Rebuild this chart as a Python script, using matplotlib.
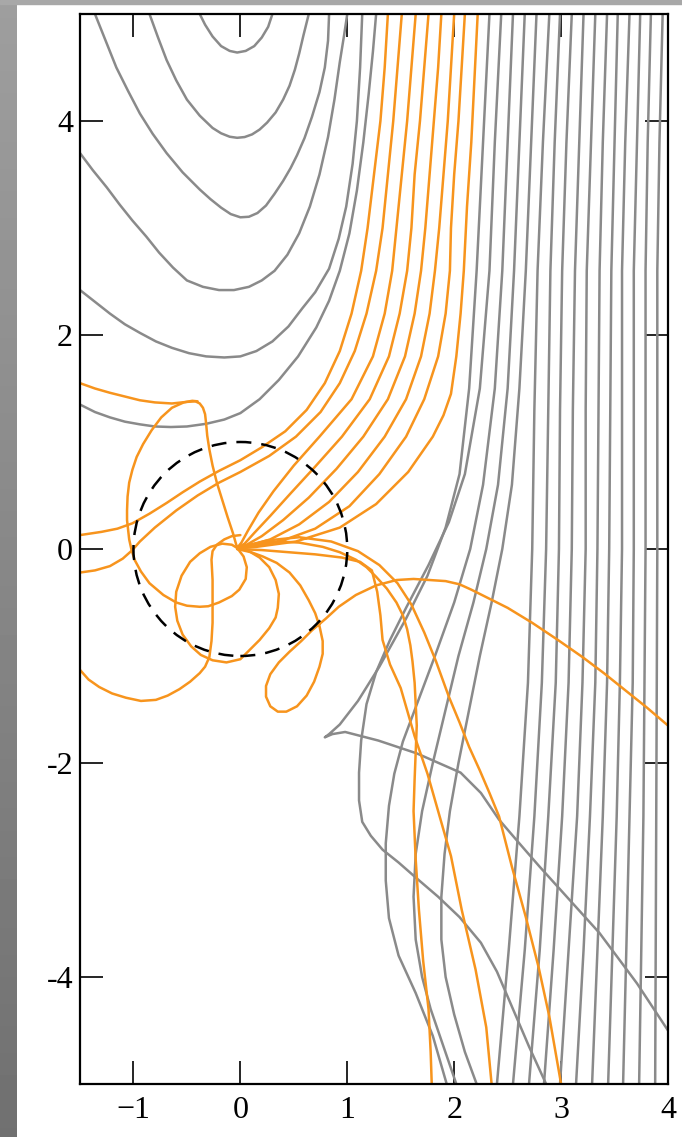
import numpy as np
import matplotlib
matplotlib.use('Agg')
import matplotlib.pyplot as plt
from matplotlib.patches import Rectangle, Circle

# ---------------- data (data units) ----------------
# grey trajectories turned back in the upper left
refl_x = [
    [-0.38, -0.33, -0.26, -0.18, -0.10, -0.03, 0.05, 0.13, 0.20, 0.26, 0.30],
    [-0.85, -0.77, -0.69, -0.60, -0.50, -0.38, -0.26, -0.18, -0.10, -0.03, 0.04, 0.11, 0.18, 0.25, 0.33, 0.40, 0.46, 0.51, 0.55, 0.59, 0.64],
    [-1.36, -1.26, -1.16, -1.05, -0.94, -0.82, -0.69, -0.54, -0.38, -0.28, -0.18, -0.09, 0.00, 0.08, 0.16, 0.24, 0.32, 0.40, 0.47, 0.53, 0.60, 0.67, 0.74, 0.79, 0.82, 0.83],
    [-1.50, -1.38, -1.25, -1.13, -1.01, -0.88, -0.76, -0.63, -0.50, -0.35, -0.20, -0.06, 0.08, 0.20, 0.32, 0.44, 0.55, 0.65, 0.74, 0.82, 0.88, 0.93, 0.97, 1.00],
    [-1.50, -1.36, -1.22, -1.08, -0.94, -0.79, -0.64, -0.48, -0.32, -0.15, 0.00, 0.15, 0.30, 0.45, 0.58, 0.70, 0.83, 0.92, 0.99, 1.05, 1.09, 1.12, 1.14],
    [-1.50, -1.36, -1.22, -1.08, -0.94, -0.80, -0.65, -0.50, -0.32, -0.15, 0.00, 0.18, 0.36, 0.54, 0.71, 0.83, 0.93, 1.02, 1.09, 1.15, 1.20, 1.24, 1.27],
]
refl_y = [
    [5.00, 4.90, 4.79, 4.70, 4.655, 4.64, 4.655, 4.70, 4.78, 4.88, 5.00],
    [5.00, 4.78, 4.57, 4.38, 4.20, 4.05, 3.935, 3.885, 3.853, 3.843, 3.85, 3.875, 3.92, 3.985, 4.08, 4.20, 4.33, 4.48, 4.63, 4.80, 5.00],
    [5.00, 4.75, 4.50, 4.28, 4.07, 3.88, 3.70, 3.52, 3.36, 3.27, 3.19, 3.13, 3.10, 3.105, 3.14, 3.21, 3.32, 3.44, 3.56, 3.68, 3.84, 4.04, 4.27, 4.50, 4.75, 5.00],
    [3.70, 3.54, 3.38, 3.22, 3.07, 2.92, 2.77, 2.63, 2.51, 2.45, 2.42, 2.42, 2.45, 2.51, 2.60, 2.75, 2.95, 3.20, 3.50, 3.85, 4.20, 4.55, 4.80, 5.00],
    [2.42, 2.31, 2.20, 2.10, 2.02, 1.94, 1.88, 1.83, 1.80, 1.79, 1.80, 1.85, 1.94, 2.08, 2.25, 2.40, 2.62, 2.90, 3.20, 3.60, 4.00, 4.50, 5.00],
    [1.35, 1.28, 1.23, 1.19, 1.165, 1.145, 1.14, 1.145, 1.17, 1.21, 1.27, 1.40, 1.58, 1.80, 2.07, 2.32, 2.60, 2.95, 3.35, 3.80, 4.25, 4.65, 5.00],
]

# grey trajectories passing on the right: x at the levels below
pass_levels = [5.0, 3.8, 2.6, 1.3, 0.0, -1.25, -2.5, -3.75, -5.0]
pass_x = [
    [2.89, 2.83, 2.78, 2.75, 2.73, 2.69, 2.61, 2.51, 2.40],
    [2.99, 2.94, 2.90, 2.88, 2.86, 2.82, 2.75, 2.66, 2.55],
    [3.10, 3.05, 3.01, 2.99, 2.98, 2.95, 2.88, 2.80, 2.70],
    [3.21, 3.17, 3.13, 3.11, 3.10, 3.07, 3.01, 2.93, 2.84],
    [3.32, 3.28, 3.24, 3.23, 3.23, 3.20, 3.15, 3.07, 2.99],
    [3.43, 3.39, 3.36, 3.35, 3.34, 3.32, 3.27, 3.21, 3.14],
    [3.53, 3.50, 3.47, 3.46, 3.45, 3.43, 3.39, 3.34, 3.29],
    [3.64, 3.60, 3.57, 3.57, 3.57, 3.55, 3.52, 3.48, 3.44],
    [3.74, 3.71, 3.68, 3.68, 3.68, 3.67, 3.64, 3.61, 3.58],
    [3.84, 3.81, 3.79, 3.79, 3.79, 3.78, 3.77, 3.75, 3.73],
    [3.95, 3.92, 3.90, 3.90, 3.90, 3.895, 3.89, 3.885, 3.88],
]

# grey trajectories strongly bent (inner ones)
bent_x = [
    [2.33, 2.27, 2.21, 2.14, 2.05, 1.92, 1.75, 1.55, 1.30, 1.10, 0.93, 0.83, 0.79, 0.86, 0.98, 1.29, 1.65, 2.06, 2.25, 2.42, 2.60, 2.80, 3.08, 3.36, 3.71, 4.00],
    [2.44, 2.38, 2.33, 2.24, 2.10, 1.95, 1.76, 1.55, 1.40, 1.27, 1.18, 1.13, 1.11, 1.11, 1.14, 1.22, 1.33, 1.48, 1.64, 1.85, 2.05, 2.25, 2.40, 2.55, 2.70, 2.86],
    [2.55, 2.50, 2.45, 2.38, 2.27, 2.15, 2.00, 1.82, 1.64, 1.52, 1.44, 1.39, 1.36, 1.36, 1.39, 1.48, 1.64, 1.80, 1.93],
    [2.66, 2.61, 2.56, 2.50, 2.41, 2.30, 2.18, 2.04, 1.92, 1.80, 1.70, 1.64, 1.62, 1.64, 1.70, 1.78, 1.90, 2.02],
    [2.77, 2.72, 2.67, 2.61, 2.54, 2.45, 2.35, 2.24, 2.14, 2.04, 1.96, 1.91, 1.88, 1.88, 1.92, 2.00, 2.10, 2.21],
]
bent_y = [
    [5.00, 3.80, 2.60, 1.50, 0.70, 0.20, -0.25, -0.65, -1.10, -1.42, -1.64, -1.73, -1.76, -1.73, -1.71, -1.79, -1.91, -2.09, -2.28, -2.53, -2.74, -2.97, -3.28, -3.59, -4.06, -4.50],
    [5.00, 3.80, 2.60, 1.50, 0.70, 0.25, -0.15, -0.55, -0.85, -1.15, -1.45, -1.79, -2.09, -2.35, -2.55, -2.68, -2.81, -2.93, -3.07, -3.25, -3.44, -3.68, -3.95, -4.30, -4.65, -5.00],
    [5.00, 3.80, 2.60, 1.50, 0.60, 0.00, -0.50, -1.00, -1.48, -1.80, -2.10, -2.40, -2.75, -3.10, -3.45, -3.80, -4.15, -4.55, -5.00],
    [5.00, 3.80, 2.60, 1.50, 0.60, 0.00, -0.50, -1.00, -1.50, -2.00, -2.45, -2.85, -3.25, -3.65, -4.00, -4.30, -4.65, -5.00],
    [5.00, 3.80, 2.60, 1.50, 0.60, 0.00, -0.50, -1.00, -1.50, -2.00, -2.45, -2.85, -3.25, -3.65, -4.00, -4.35, -4.70, -5.00],
]

# orange trajectories
orange_x = [
    # to the left edge, upper
    [1.38, 1.35, 1.31, 1.25, 1.19, 1.13, 1.04, 0.93, 0.79, 0.62, 0.42, 0.20, 0.00, -0.20, -0.38, -0.54, -0.69, -0.85, -1.01, -1.15, -1.30, -1.50],
    # to the left edge, lower
    [1.51, 1.47, 1.43, 1.38, 1.33, 1.27, 1.18, 1.07, 0.93, 0.75, 0.52, 0.27, 0.00, -0.20, -0.40, -0.60, -0.80, -0.94, -1.01, -1.10, -1.22, -1.36, -1.50],
    # through the centre, then the hook
    [1.64, 1.60, 1.56, 1.51, 1.46, 1.42, 1.35, 1.24, 1.04, 0.74, 0.50, 0.31, 0.17, 0.07, 0.01, -0.03,
     -0.07, -0.12, -0.17, -0.22, -0.26, -0.29, -0.31, -0.32, -0.33, -0.35, -0.38, -0.42, -0.50, -0.64, -0.80, -0.94, -1.10, -1.22, -1.36, -1.50],
    # through the centre, then the big loop on the left
    [1.76, 1.72, 1.68, 1.63, 1.60, 1.56, 1.49, 1.39, 1.21, 0.95, 0.70, 0.47, 0.28, 0.13, 0.04, -0.03,
     0.03, 0.06, 0.05, -0.01, -0.08, -0.20, -0.30, -0.38, -0.50, -0.60, -0.72, -0.85, -0.93, -0.99, -1.02, -1.04, -1.05,
     -1.06, -1.06, -1.055, -1.04, -1.01, -0.97, -0.91, -0.83, -0.74, -0.64, -0.53, -0.45, -0.40],
    # through the centre, then the drop-shaped loop below it
    [1.88, 1.85, 1.81, 1.77, 1.73, 1.69, 1.63, 1.54, 1.38, 1.15, 0.90, 0.64, 0.40, 0.20, 0.06, -0.03,
     0.08, 0.18, 0.27, 0.33, 0.36, 0.35, 0.33, 0.27, 0.18, 0.08, 0.00, -0.13, -0.26, -0.37, -0.46, -0.54, -0.59, -0.61,
     -0.60, -0.55, -0.47, -0.38, -0.28, -0.17, -0.08, -0.03],
    # through the centre, small loop, out on the right edge
    [2.00, 1.97, 1.94, 1.90, 1.86, 1.82, 1.77, 1.69, 1.55, 1.35, 1.10, 0.83, 0.55, 0.28, 0.08, -0.03,
     0.10, 0.21, 0.34, 0.46, 0.56, 0.64, 0.70, 0.74, 0.77, 0.77, 0.74, 0.69, 0.62, 0.53, 0.43, 0.35, 0.28, 0.24, 0.24,
     0.28, 0.36, 0.46, 0.57, 0.67, 0.80, 0.92, 1.08, 1.27, 1.46, 1.62, 1.77, 1.92, 2.05, 2.16, 2.26, 2.50, 2.73, 2.97,
     3.20, 3.40, 3.60, 3.80, 4.00],
    # through the centre, out at the bottom near x = 1.8
    [2.10, 2.07, 2.04, 2.00, 1.97, 1.96, 1.92, 1.85, 1.72, 1.55, 1.30, 1.02, 0.70, 0.37, 0.10, -0.03,
     0.10, 0.20, 0.36, 0.55, 0.77, 0.93, 1.08, 1.18, 1.27, 1.37, 1.46, 1.52, 1.56, 1.59, 1.61, 1.63, 1.64, 1.65,
     1.64, 1.63, 1.62, 1.64, 1.67, 1.71, 1.76, 1.78, 1.79],
    # through the centre, out at the bottom near x = 3
    [2.22, 2.19, 2.16, 2.12, 2.09, 2.06, 2.02, 1.97, 1.90, 1.80, 1.57, 1.27, 0.93, 0.52, 0.15, -0.03,
     0.25, 0.55, 0.85, 1.10, 1.30, 1.47, 1.60, 1.72, 1.83, 1.95, 2.05, 2.14, 2.24, 2.33, 2.42, 2.54, 2.67, 2.79, 2.89, 3.00],
    # from the centre, out at the bottom near x = 2.35
    [-0.03, 0.20, 0.45, 0.70, 0.95, 1.12, 1.23, 1.28, 1.31, 1.33, 1.40, 1.50, 1.63, 1.75, 1.85, 1.97, 2.07, 2.20, 2.30, 2.35],
    # from the centre, down and out at the left edge
    [0.00, -0.08, -0.15, -0.22, -0.26, -0.27, -0.26, -0.26, -0.26, -0.27, -0.29, -0.33, -0.38, -0.47, -0.57, -0.68, -0.79, -0.93,
     -1.07, -1.20, -1.32, -1.42, -1.50],
]
orange_y = [
    [5.0, 4.5, 4.0, 3.5, 3.0, 2.6, 2.2, 1.85, 1.55, 1.30, 1.10, 0.95, 0.83, 0.73, 0.63, 0.53, 0.43, 0.33, 0.24, 0.19, 0.16, 0.13],
    [5.0, 4.5, 4.0, 3.5, 3.0, 2.6, 2.2, 1.85, 1.55, 1.28, 1.05, 0.87, 0.72, 0.62, 0.50, 0.36, 0.20, 0.07, -0.01, -0.09, -0.16, -0.20, -0.22],
    [5.0, 4.5, 4.0, 3.5, 3.0, 2.6, 2.2, 1.8, 1.4, 1.05, 0.78, 0.54, 0.34, 0.17, 0.06, 0.01,
     0.15, 0.30, 0.46, 0.62, 0.78, 0.93, 1.06, 1.17, 1.26, 1.32, 1.36, 1.38, 1.375, 1.36, 1.37, 1.39, 1.43, 1.46, 1.50, 1.55],
    [5.0, 4.5, 4.0, 3.5, 3.0, 2.6, 2.2, 1.8, 1.4, 1.05, 0.77, 0.52, 0.31, 0.15, 0.05, 0.01,
     -0.07, -0.17, -0.28, -0.38, -0.44, -0.50, -0.535, -0.54, -0.53, -0.50, -0.43, -0.32, -0.21, -0.10, 0.00, 0.09, 0.18,
     0.27, 0.36, 0.49, 0.62, 0.74, 0.86, 0.98, 1.11, 1.23, 1.32, 1.37, 1.385, 1.38],
    [5.0, 4.5, 4.0, 3.5, 3.0, 2.6, 2.2, 1.8, 1.4, 1.05, 0.75, 0.48, 0.27, 0.12, 0.04, 0.01,
     -0.02, -0.08, -0.17, -0.29, -0.42, -0.55, -0.64, -0.74, -0.85, -0.95, -1.03, -1.06, -1.04, -0.99, -0.91, -0.80, -0.67, -0.54,
     -0.40, -0.25, -0.12, -0.04, 0.02, 0.05, 0.04, 0.01],
    [5.0, 4.5, 4.0, 3.5, 3.0, 2.6, 2.2, 1.8, 1.4, 1.05, 0.72, 0.44, 0.23, 0.09, 0.03, 0.00,
     -0.03, -0.07, -0.13, -0.22, -0.34, -0.48, -0.60, -0.72, -0.86, -0.98, -1.10, -1.24, -1.37, -1.47, -1.52, -1.52, -1.47, -1.38, -1.28,
     -1.17, -1.06, -0.96, -0.86, -0.76, -0.65, -0.54, -0.43, -0.34, -0.29, -0.28, -0.29, -0.30, -0.33, -0.38, -0.43, -0.55, -0.69, -0.85,
     -1.01, -1.16, -1.32, -1.48, -1.65],
    [5.0, 4.5, 4.0, 3.5, 3.0, 2.6, 2.2, 1.8, 1.4, 1.05, 0.70, 0.40, 0.19, 0.07, 0.02, 0.00,
     0.04, 0.06, 0.07, 0.06, 0.02, -0.03, -0.10, -0.17, -0.26, -0.37, -0.50, -0.62, -0.75, -0.90, -1.05, -1.25, -1.45, -1.65,
     -1.90, -2.15, -2.45, -2.90, -3.37, -3.85, -4.30, -4.70, -5.00],
    [5.0, 4.4, 3.8, 3.2, 2.6, 2.2, 1.8, 1.45, 1.25, 1.05, 0.72, 0.42, 0.20, 0.07, 0.02, 0.01,
     0.08, 0.11, 0.07, -0.02, -0.15, -0.32, -0.52, -0.78, -1.05, -1.38, -1.62, -1.85, -2.07, -2.28, -2.50, -2.97, -3.44, -3.91, -4.37, -5.00],
    [0.00, -0.01, -0.03, -0.05, -0.08, -0.12, -0.20, -0.40, -0.62, -0.85, -1.08, -1.30, -1.75, -2.10, -2.45, -2.87, -3.37, -3.93, -4.47, -5.00],
    [0.13, 0.12, 0.09, 0.04, -0.02, -0.10, -0.29, -0.50, -0.69, -0.86, -1.01, -1.10, -1.16, -1.24, -1.31, -1.37, -1.41, -1.42,
     -1.39, -1.35, -1.29, -1.22, -1.13],
]

xticks = [-1, 0, 1, 2, 3, 4]
xticklabels = ['\u22121', '0', '1', '2', '3', '4']
yticks = [-4, -2, 0, 2, 4]
yticklabels = ['-4', '-2', '0', '2', '4']
circle_radius = 1.0

# ---------------- drawing ----------------
GREY = '#8a8a8a'
ORANGE = '#f7941d'
plt.rcParams['font.family'] = ['Liberation Serif', 'DejaVu Serif']

fig = plt.figure(figsize=(6.82, 11.37), dpi=100)
fig.patch.set_facecolor('white')

band = fig.add_axes([0, 0, 17 / 682, 1])
grad = np.linspace(0.44, 0.62, 256)[:, None]
band.imshow(grad, aspect='auto', cmap='gray', vmin=0, vmax=1, origin='lower',
            extent=[0, 1, 0, 1])
band.axis('off')
fig.patches.append(Rectangle((0, 1 - 4 / 1137), 1, 4 / 1137, transform=fig.transFigure,
                             color='#a8a8a8', zorder=0))

ax = fig.add_axes([80 / 682, 1 - 1084 / 1137, 588 / 682, 1070 / 1137])
ax.set_xlim(-1.5, 4)
ax.set_ylim(-5, 5)

lw = 1.8
kw = dict(lw=lw, solid_joinstyle='round', solid_capstyle='round')
for xs, ys in zip(refl_x, refl_y):
    ax.plot(xs, ys, color=GREY, **kw)
for xs in pass_x:
    ax.plot(xs, pass_levels, color=GREY, **kw)
for xs, ys in zip(bent_x, bent_y):
    ax.plot(xs, ys, color=GREY, **kw)
for xs, ys in zip(orange_x, orange_y):
    ax.plot(xs, ys, color=ORANGE, **kw)

ax.add_patch(Circle((0, 0), circle_radius, fill=False, ec='black', lw=1.8,
                    linestyle=(0, (6, 4)), zorder=5))

ax.set_xticks(xticks)
ax.set_xticklabels(xticklabels)
ax.set_yticks(yticks)
ax.set_yticklabels(yticklabels)
ax.tick_params(direction='in', length=16.5, width=1.2, top=True, right=True,
               labelsize=23, colors='black')
ax.tick_params(axis='x', pad=9)
ax.tick_params(axis='y', pad=5)
for s in ax.spines.values():
    s.set_linewidth(1.6)

fig.savefig('out.png', dpi=100)
